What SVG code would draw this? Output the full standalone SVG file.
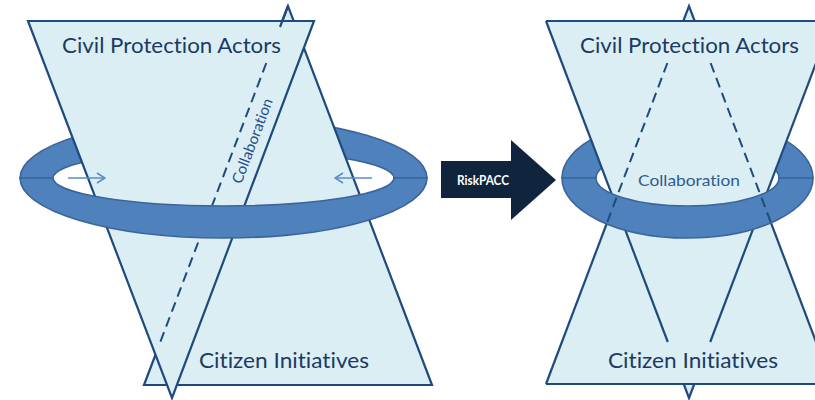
<svg xmlns="http://www.w3.org/2000/svg" width="815" height="400" viewBox="0 0 815 400">
<defs>
<style>
.tri{fill:#DBEEF4;stroke:#1F4A7E;stroke-width:2.2;stroke-linejoin:miter}
.trif{fill:#DBEEF4;stroke:none}
.edge{fill:none;stroke:#1F4A7E;stroke-width:2.2}
.dash{fill:none;stroke:#1F4A7E;stroke-width:2;stroke-dasharray:10 6}
.ring{fill:#4F81BD;stroke:#3B659A;stroke-width:1.6}
text{font-variant-ligatures:none;font-feature-settings:"liga" 0,"dlig" 0}
.lbl{font-family:Lato,"Open Sans",sans-serif;font-size:21.5px;fill:#1B3A64}
.collab{font-family:Lato,"Open Sans",sans-serif;font-size:15px;fill:#24508A}
.small{fill:none;stroke:#5B8BC8;stroke-width:1.6}
</style>
<marker id="chev" viewBox="0 0 10 12" refX="9" refY="6" markerWidth="10" markerHeight="12" markerUnits="userSpaceOnUse" orient="auto">
<path d="M1,1 L9,6 L1,11" fill="none" stroke="#5B8BC8" stroke-width="1.5"/>
</marker>
</defs>
<rect width="815" height="400" fill="#FFFFFF"/>

<!-- LEFT DIAGRAM -->
<g id="left-ring-back">
<path class="ring" d="M20,178 A203.5,60 0 0 1 427,178 L394,178 A170.5,28 0 0 0 53,178 Z"/>
</g>
<g id="left-citizen-initiatives">
<polygon class="tri" points="288,6 144,385 432,385"/>
</g>
<g id="left-civil-protection">
<polygon class="tri" points="28,21 314,21 172,398"/>
<line class="edge" x1="288" y1="6" x2="280" y2="27"/>
<line class="dash" x1="266.3" y1="63" x2="158.4" y2="347"/>
</g>
<g id="left-ring-front">
<path class="ring" d="M20,178 A203.5,60 0 0 0 427,178 L394,178 A170.5,28 0 0 1 53,178 Z"/>
</g>

<!-- RIGHT DIAGRAM -->
<g id="right-ring-back">
<path class="ring" d="M562,178 A125.5,60 0 0 1 813,178 L779,178 A91.5,28 0 0 0 596,178 Z"/>
</g>
<g id="right-citizen-initiatives">
<polygon class="trif" points="689,6 546,384 832,384"/>
</g>
<g id="right-civil-protection">
<polygon class="trif" points="546,21 832,21 689,398"/>
<line class="edge" x1="546" y1="384" x2="832" y2="384"/>
<polyline class="edge" points="546,384 613,207"/>
<polyline class="edge" points="832,384 765,207"/>
<line class="edge" x1="546" y1="21" x2="832" y2="21"/>
<line class="edge" x1="546" y1="21" x2="667.8" y2="342"/>
<line class="edge" x1="832" y1="21" x2="710.2" y2="342"/>
<polyline class="edge" points="683.7,384 689,398 694.3,384"/>
<polyline class="edge" points="683.3,21 689,6 694.7,21"/>
</g>
<g id="right-ring-front">
<path class="ring" d="M562,178 A125.5,60 0 0 0 813,178 L779,178 A91.5,28 0 0 1 596,178 Z"/>
</g>
<g id="right-collab-lines">
<line class="dash" x1="667.4" y1="63" x2="607.3" y2="222"/>
<line class="dash" x1="710.6" y1="63" x2="770.7" y2="222"/>
</g>

<!-- TRANSITION ARROW -->
<g id="riskpacc">
<polygon points="441,161 511,161 511,140 556,180 511,220 511,198 441,198" fill="#10243E"/>
<text x="457" y="185" textLength="52" lengthAdjust="spacingAndGlyphs" style="font-family:Lato,'Open Sans',sans-serif;font-weight:bold;font-size:13.5px;fill:#FFFFFF">RiskPACC</text>
</g>

<g id="connectors">
<line class="small" x1="68" y1="178" x2="105" y2="178" marker-end="url(#chev)"/>
<line class="small" x1="372" y1="178" x2="335" y2="178" marker-end="url(#chev)"/>
</g>

<g id="labels">
<text class="lbl" x="62" y="53" textLength="219" lengthAdjust="spacingAndGlyphs">Civil Protection Actors</text>
<text class="lbl" x="199" y="368" textLength="170" lengthAdjust="spacingAndGlyphs">Citizen Initiatives</text>
<text class="collab" x="0" y="5" text-anchor="middle" textLength="90" lengthAdjust="spacingAndGlyphs" transform="translate(252.5,141) rotate(-69.2)">Collaboration</text>
<text class="lbl" x="580" y="53" textLength="219" lengthAdjust="spacingAndGlyphs">Civil Protection Actors</text>
<text class="lbl" x="608" y="368" textLength="170" lengthAdjust="spacingAndGlyphs">Citizen Initiatives</text>
<text class="collab" x="638" y="185.5" textLength="102" lengthAdjust="spacingAndGlyphs" style="fill:#2F5C91">Collaboration</text>
</g>
</svg>
